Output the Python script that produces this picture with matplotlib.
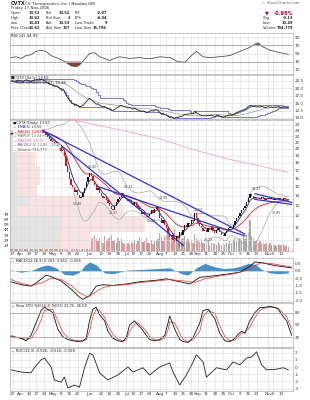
import numpy as np
import pandas as pd
import matplotlib
matplotlib.use("Agg")
import matplotlib.pyplot as plt

W, H = 310, 400

# ---- data ----
holidays = ["2006-04-14", "2006-05-29", "2006-07-04", "2006-09-04"]
dates = pd.bdate_range("2006-03-24", "2006-11-17")
dates = dates[~dates.isin(pd.to_datetime(holidays))]

close = [22.4,
         22.6, 22.3, 22.5, 22.8, 22.6,
         22.4, 22.1, 22.5, 22.9, 22.7,
         22.5, 22.2, 22.6, 22.8,
         22.9, 23.0, 22.8, 23.1, 22.9,
         22.6, 22.2, 21.9, 21.6, 21.3,
         21.0, 20.7, 20.9, 20.4, 20.1,
         19.6, 19.8, 18.9, 17.6, 16.8,
         15.9, 15.2, 14.9, 14.4, 14.6,
         14.1, 13.8, 13.9, 14.3, 14.8,
         15.5, 16.1, 16.6, 16.2,
         15.7, 15.2, 14.6, 14.8, 14.3,
         14.0, 13.7, 13.9, 13.5, 13.2,
         12.9, 12.6, 12.5, 12.9, 13.3,
         13.6, 13.9, 14.3, 14.0, 13.8,
         13.6, 13.4, 13.5, 13.2,
         13.0, 13.3, 12.9, 12.7, 12.5,
         12.2, 12.4, 12.1, 11.9, 12.0,
         12.2, 12.5, 12.3, 12.6, 12.8,
         12.5, 11.8, 11.4, 11.6, 11.2,
         10.9, 10.5, 10.2, 10.4, 10.0,
         9.9, 10.3, 10.1, 10.6, 10.4,
         10.8, 11.2, 11.0, 11.4, 11.3,
         11.6, 11.5, 12.3, 11.8, 11.4,
         11.1, 10.9, 10.7, 10.8,
         10.6, 10.9, 10.8, 11.0, 10.7,
         10.5, 10.8, 10.9, 10.6, 10.4,
         10.3, 10.5, 10.7, 10.9, 11.0,
         10.9, 11.2, 11.5, 11.8, 12.0,
         12.3, 12.5, 12.7, 12.9, 13.3,
         13.8, 14.2, 14.0, 13.8, 13.9,
         13.7, 13.8, 13.6, 13.9, 13.7,
         13.5, 13.6, 13.8, 13.6, 13.7,
         13.5, 13.7, 13.6, 13.8, 13.6,
         13.5, 13.7, 13.6, 13.62, 13.50]

volume = [1.2,
          1.5, 1.1, 1.8, 1.3, 1.0,
          1.4, 2.0, 1.2, 1.6, 1.1,
          1.3, 1.0, 1.5, 1.2,
          1.8, 2.4, 1.5, 2.2, 1.4,
          1.6, 2.0, 2.5, 1.8, 2.2,
          2.8, 2.0, 1.6, 2.5, 3.0,
          2.6, 1.9, 3.5, 4.5, 3.2,
          4.0, 3.0, 2.4, 3.3, 2.5,
          3.5, 2.8, 2.0, 2.6, 3.8,
          4.2, 2.9, 3.6, 2.2,
          2.5, 3.0, 2.2, 1.8, 2.4,
          2.0, 1.6, 2.8, 1.9, 2.2,
          2.6, 3.1, 1.8, 2.0, 1.5,
          2.4, 1.8, 2.2, 1.6, 1.4,
          1.0, 1.6, 1.3, 1.7,
          1.5, 2.0, 1.4, 1.8, 2.6,
          2.2, 1.7, 1.9, 2.4, 1.6,
          1.5, 2.0, 1.3, 1.8, 2.1,
          2.3, 3.4, 2.6, 1.9, 2.8,
          3.0, 4.6, 3.8, 2.7, 3.5,
          4.2, 3.1, 2.6, 3.4, 2.2,
          2.5, 2.9, 1.8, 2.3, 1.7,
          2.0, 1.6, 3.2, 2.4, 1.9,
          1.7, 2.2, 1.5, 1.4,
          1.3, 1.8, 1.2, 1.5, 1.6,
          1.4, 1.1, 1.7, 1.3, 1.2,
          1.5, 1.2, 1.6, 1.4, 1.8,
          1.6, 2.0, 2.4, 1.8, 2.2,
          2.5, 2.0, 2.8, 2.3, 3.0,
          3.6, 5.8, 2.9, 2.4, 1.9,
          2.0, 1.6, 1.8, 1.4, 1.5,
          1.3, 1.6, 1.2, 1.5, 1.1,
          1.4, 1.2, 1.0, 1.3, 1.2,
          1.1, 1.4, 1.0, 1.2, 0.8]

# 200 day MA (pink), read at a few days
ma200_idx = [30, 45, 70, 90, 113, 130, 150, 166]
ma200_val = [25.3, 24.4, 22.8, 21.5, 19.6, 18.5, 17.5, 16.7]

# volume by price zones
vbp_lo = [9.3, 10.6, 12.0, 13.0, 14.0, 15.2, 17.5, 20.0]
vbp_hi = [10.6, 12.0, 13.0, 14.0, 15.2, 17.5, 20.0, 23.0]
vbp_up = [30, 31, 5, 12, 4, 5, 4, 4]
vbp_down = [18, 50, 63, 55, 12, 13, 11, 8]

# drawn trend lines (day, price) pairs
trend_lines = [((19, 23.0), (140, 10.45)),
               ((19, 23.0), (103, 9.6)),
               ((52, 15.0), (140, 10.3)),
               ((146, 14.2), (168, 13.3)),
               ((146, 13.6), (168, 13.1))]

# high / low price notes on the main panel
note_idx = [40, 49, 61, 70, 84, 91, 102, 112, 118, 147, 159]
note_price = [13.1, 17.4, 12.3, 14.9, 11.55, 13.7, 9.55, 12.5, 10.0, 14.7, 12.3]
note_text = ["13.46", "16.80", "12.47", "14.23", "11.47", "13.05", "9.78", "12.52", "10.23",
             "14.47", "12.85"]

rsi_idx = [0, 3, 6, 9, 12, 15, 18, 21, 24, 27, 30, 33, 36, 39, 41, 44, 47, 50, 53, 56, 59, 62,
           65, 68, 71, 77, 83, 89, 95, 100, 104, 108, 111, 115, 119, 125, 131, 137, 143, 146,
           148, 150, 155, 161, 166]
rsi_val = [40, 42, 38, 45, 47, 55, 58, 55, 45, 40, 35, 28, 20, 18, 22, 35, 50, 52, 42, 38, 33, 38,
           42, 40, 38, 40, 37, 42, 40, 30, 28, 45, 55, 42, 40, 42, 45, 55, 65, 73,
           76, 68, 58, 52, 48]

macd_idx = [0, 6, 12, 16, 21, 24, 30, 36, 41, 43, 47, 51, 55, 61, 69, 77, 87, 93, 101, 107, 113,
            121, 131, 137, 143, 146, 150, 158, 168]
macd_val = [-0.75, -0.95, -1.05, -0.75, -0.3, -0.4, -0.7, -1.25, -1.8, -1.95, -1.7, -1.05, -0.95,
            -1.0, -0.9, -0.75, -0.65, -0.55, -0.75, -0.9, -0.45, -0.35, -0.2, -0.1, 0.3, 0.6, 0.55,
            0.35, 0.2]
signal_idx = [0, 6, 12, 18, 24, 30, 36, 41, 46, 50, 55, 61, 69, 77, 87, 95, 104, 110, 116, 125,
              134, 140, 146, 150, 158, 168]
signal_val = [-0.6, -0.85, -1.0, -0.85, -0.5, -0.6, -1.0, -1.5, -1.8, -1.5, -1.15, -1.0, -0.95,
              -0.8, -0.7, -0.6, -0.7, -0.8, -0.55, -0.35, -0.2, 0.0, 0.35, 0.55, 0.45, 0.25]
hist_idx = [0, 6, 12, 18, 22, 27, 32, 37, 41, 44, 47, 51, 56, 61, 70, 80, 88, 95, 102, 106, 111,
            116, 121, 127, 133, 137, 142, 146, 150, 155, 160, 166]
hist_val = [0.05, -0.1, 0.0, 0.3, 0.4, 0.2, -0.25, -0.3, -0.1, 0.35, 0.6, 0.4, -0.15, -0.2, 0.05,
            0.1, 0.15, 0.2, -0.2, -0.3, 0.2, 0.5, 0.3, 0.15, 0.2, 0.3, 0.5, 0.45, 0.1, -0.15,
            -0.2, -0.15]

sto_idx = [0, 3, 6, 9, 12, 15, 18, 20, 25, 28, 31, 34, 37, 40, 43, 45, 47, 49, 51, 53, 56, 58, 61,
           64, 67, 69, 71, 74, 76, 78, 81, 83, 86, 89, 92, 94, 95, 98, 101, 103, 106, 109, 113, 115,
           118, 122, 125, 128, 131, 134, 136, 138, 140, 143, 146, 149, 151, 155, 158, 160, 162, 165, 168]
sto_k = [22, 20, 18, 12, 25, 55, 85, 93, 80, 40, 22, 15, 12, 10, 12, 18, 60, 88, 93, 75, 60, 35,
         18, 12, 10, 20, 50, 60, 50, 42, 25, 15, 12, 15, 25, 55, 72, 40, 15, 10, 8, 20, 55, 85,
         88, 65, 30, 12, 10, 18, 28, 35, 30, 60, 80, 92, 92, 95, 92, 88, 75, 60, 25]
sto_d = [25, 21, 19, 16, 18, 35, 62, 85, 88, 60, 32, 20, 14, 12, 11, 14, 35, 70, 88, 85, 68, 48,
         28, 16, 12, 14, 35, 52, 55, 48, 35, 22, 14, 13, 18, 38, 58, 55, 30, 15, 10, 14, 35, 70,
         85, 78, 48, 22, 12, 13, 22, 30, 32, 45, 68, 85, 90, 93, 93, 90, 82, 70, 40]

roc_idx = [0, 6, 12, 14, 18, 20, 24, 26, 30, 32, 34, 38, 41, 44, 47, 49, 53, 58, 64, 70, 73, 79,
           83, 89, 95, 97, 101, 105, 109, 111, 115, 117, 123, 129, 133, 137, 141, 144, 147, 150,
           153, 159, 163, 166]
roc_val = [-0.4, -0.7, -0.8, -0.1, 1.0, 1.25, 0.0, -1.8, -2.1, -1.4, -2.9, -2.5, -2.8, -0.1, 1.9,
           1.7, -0.8, -1.8, -1.1, 0.0, -0.7, -0.1, -1.1, 0.0, 0.55, -0.7, -2.5, -1.1, 0.7, 1.7,
           0.7, -1.4, -0.1, -0.4, 0.7, 0.3, 1.25, 1.4, 2.1, 0.3, -0.4, -0.3, -0.1, -0.4]

tick_dates = ["2006-03-27", "2006-04-03", "2006-04-10", "2006-04-17", "2006-04-24", "2006-05-01",
              "2006-05-08", "2006-05-15", "2006-05-22", "2006-06-01", "2006-06-12", "2006-06-19",
              "2006-06-26", "2006-07-03", "2006-07-10", "2006-07-17", "2006-07-24", "2006-08-01",
              "2006-08-07", "2006-08-14", "2006-08-21", "2006-08-28", "2006-09-01", "2006-09-11",
              "2006-09-18", "2006-09-25", "2006-10-02", "2006-10-09", "2006-10-16", "2006-10-23",
              "2006-11-01", "2006-11-06", "2006-11-13"]
tick_labels = ["27", "Apr", "10", "17", "24", "May", "8", "15", "22", "Jun", "12", "19", "26",
               "Jul", "10", "17", "24", "Aug", "7", "14", "21", "28", "Sep", "11", "18", "25",
               "Oct", "9", "16", "23", "Nov", "6", "13"]

# ---- derived ----
c = pd.Series(close)
idx = np.arange(len(close))
ema_fast = c.ewm(span=5, adjust=False).mean()
ma20 = c.rolling(20, min_periods=1).mean()
sd20 = c.rolling(20, min_periods=2).std().fillna(0)
bb_up = ma20 + 2 * sd20
bb_dn = ma20 - 2 * sd20
ma50 = c.ewm(span=20, adjust=False).mean()
tick_pos = [int(np.searchsorted(dates, pd.Timestamp(d))) for d in tick_dates]

XLIM = (-0.6, 168.8)
GRID = "#dcdcdc"
FS = 3.0


def px_axes(x0, y0, x1, y1):
    return fig.add_axes([x0 / W, 1 - y1 / H, (x1 - x0) / W, (y1 - y0) / H])


def style(ax, yticks, ylabels, xlabels=False):
    ax.set_xlim(*XLIM)
    ax.set_xticks(tick_pos)
    ax.set_xticklabels(tick_labels if xlabels else [])
    ax.set_yticks(yticks)
    ax.set_yticklabels(ylabels)
    ax.yaxis.tick_right()
    ax.minorticks_off()
    ax.tick_params(axis="both", length=0, labelsize=FS, pad=1.5, colors="#333333")
    ax.grid(True, color=GRID, lw=0.4)
    ax.set_axisbelow(True)
    for s in ax.spines.values():
        s.set_color("#999999")
        s.set_linewidth(0.4)


fig = plt.figure(figsize=(W / 100, H / 100), dpi=100)
fig.patch.set_facecolor("white")

# ---- header ----
def htxt(x, y, s, **kw):
    kw.setdefault("fontsize", 2.6)
    kw.setdefault("color", "#222222")
    fig.text(x / W, 1 - y / H, s, va="center", **kw)

htxt(11, 3.5, "CVTX", fontweight="bold", fontsize=3.6)
htxt(25, 3.5, "CV Therapeutics, Inc.) Nasdaq GM", fontsize=3.0)
htxt(262, 3.5, "© StockCharts.com", fontsize=2.7, color="#666666")
htxt(11, 8.5, "Friday 17-Nov-2006", fontsize=2.8)
rows = [("Open", "13.52", "Bid", "13.52", "P/E", "-2.87"),
        ("High", "13.62", "Bid Size", "2", "EPS", "-4.04"),
        ("Low", "13.43", "Ask", "13.53", "Last Trade", "9"),
        ("Prev Close", "13.62", "Ask Size", "137", "Last Size", "15,796")]
for i, r in enumerate(rows):
    y = 13.3 + 4.9 * i
    htxt(11, y, r[0]); htxt(40, y, r[1], ha="right", fontweight="bold")
    htxt(46, y, r[2]); htxt(70, y, r[3], ha="right", fontweight="bold")
    htxt(75, y, r[4]); htxt(107, y, r[5], ha="right", fontweight="bold")
htxt(265, 13.3, "▼", color="#aa0044", fontsize=3.6)
htxt(293, 13.3, "-0.95%", ha="right", color="#aa0044", fontweight="bold", fontsize=3.6)
htxt(263, 18.2, "Chg"); htxt(293, 18.2, "-0.13", ha="right", fontweight="bold")
htxt(263, 23.1, "Last"); htxt(293, 23.1, "13.49", ha="right", fontweight="bold")
htxt(263, 28, "Volume"); htxt(293, 28, "794,779", ha="right", fontweight="bold")

# ---- RSI ----
ax = px_axes(10, 33, 293, 74)
rv = np.interp(idx, rsi_idx, rsi_val)
ax.plot(idx, rv, color="#333333", lw=0.5)
ax.fill_between(idx, rv, 70, where=rv > 70, color="#557755", lw=0, interpolate=True)
ax.fill_between(idx, rv, 30, where=rv < 30, color="#884444", lw=0, interpolate=True)
ax.axhline(70, color="#aaaaaa", lw=0.6)
ax.axhline(30, color="#aaaaaa", lw=0.6)
ax.set_ylim(0, 100)
style(ax, [10, 30, 50, 70, 90], ["10", "30", "50", "70", "90"])
ax.text(0.005, 0.97, "RSI(14) 44.99", transform=ax.transAxes, fontsize=2.8, va="top", color="#222222")

# ---- price channel panel ----
ax = px_axes(10, 75, 293, 120)
chan_hi = c.rolling(20, min_periods=1).max()
chan_lo = c.rolling(20, min_periods=1).min()
ax.step(idx, chan_hi, where="post", color="#6666bb", lw=0.6)
ax.step(idx, chan_lo, where="post", color="#6666bb", lw=0.6)
ax.plot(idx, c.rolling(20, min_periods=1).mean(), color="#999999", lw=0.5)
ax.plot(idx, c, color="#222222", lw=0.6)
ax.set_ylim(9.3, 24.5)
style(ax, [10, 12.5, 15, 17.5, 20, 22.5], ["10.0", "12.5", "15.0", "17.5", "20.0", "22.5"])
ax.text(0.005, 0.97, "■CVTX (Daily) 13.50\n— Price Chnl(20) 14.47 - 12.85", transform=ax.transAxes,
        fontsize=2.6, va="top", color="#222222", linespacing=1.1)

# ---- main price panel ----
ax = px_axes(10, 119, 293, 251)
axv = ax.twinx()
for lo, hi, up, dn in zip(vbp_lo, vbp_hi, vbp_up, vbp_down):
    ax.barh(lo, up, height=hi - lo, left=XLIM[0], align="edge", color="#e4e4e4", lw=0, zorder=0)
    ax.barh(lo, dn, height=hi - lo, left=XLIM[0] + up, align="edge", color="#fae3e3", lw=0, zorder=0)
prev = [close[0]] + close[:-1]
cols = ["#dd1111" if a < b else "#111111" for a, b in zip(close, prev)]
vcols = ["#e49a9a" if a < b else "#a8a8a8" for a, b in zip(close, prev)]
axv.bar(idx, volume, width=0.75, color=vcols, lw=0)
axv.set_ylim(0, 25)
axv.set_yticks([1, 2, 3, 4, 5, 6, 7])
axv.set_yticklabels(["1M", "2M", "3M", "4M", "5M", "6M", "7M"])
axv.yaxis.tick_left()
axv.tick_params(length=0, labelsize=2.6, pad=0.5, colors="#333333")
for s in axv.spines.values():
    s.set_visible(False)
ax.set_zorder(axv.get_zorder() + 1)
ax.patch.set_visible(False)
ax.set_yscale("log")
bottoms = [min(a, b) for a, b in zip(close, prev)]
heights = [max(abs(a - b), 0.06) for a, b in zip(close, prev)]
ax.bar(idx, heights, bottom=bottoms, width=0.8, color=cols, lw=0, zorder=4)
ax.plot(idx, bb_up, color="#aaaaaa", lw=0.5, zorder=3)
ax.plot(idx, bb_dn, color="#aaaaaa", lw=0.5, zorder=3)
ax.plot(idx, ma50, color="#cc2222", lw=0.6, zorder=3)
ax.plot(idx, ema_fast, color="#222266", lw=0.6, zorder=3)
ax.plot(ma200_idx, ma200_val, color="#e6a6d6", lw=0.6, zorder=3)
for (x0, y0), (x1, y1) in trend_lines:
    ax.plot([x0, x1], [y0, y1], color="#3333cc", lw=0.9, zorder=5)
for i_, p_, t_ in zip(note_idx, note_price, note_text):
    ax.text(i_, p_, t_, fontsize=2.3, color="#444444", ha="center", va="center", zorder=6)
ax.set_ylim(9.18, 25.1)
style(ax, list(range(10, 25)), [str(v) for v in range(10, 25)], xlabels=True)
ax.tick_params(axis="x", pad=1)
leg = [("■CVTX (Daily) 13.50", "#111111"), ("— EMA(5) 13.55", "#222266"),
       ("— MA(20) 13.62", "#cc2222"), ("— MA(50) 13.04", "#448844"),
       ("— MA(200) 15.91", "#cc66aa"), ("— BB(20,2.0) 12.85 - 14.05", "#555588"),
       ("— Volume 794,779", "#444444")]
for i, (s, col) in enumerate(leg):
    ax.text(0.01, 0.985 - i * 0.034, s, transform=ax.transAxes, fontsize=2.5, va="top", color=col,
            zorder=6, bbox=dict(fc="white", ec="none", pad=0.2, alpha=0.85))

# ---- MACD ----
ax = px_axes(10, 258, 293, 302)
hv = np.interp(idx, hist_idx, hist_val)
ax.fill_between(idx, 0, hv, color="#4a8fc4", lw=0)
ax.plot(macd_idx, macd_val, color="#111111", lw=0.6)
ax.plot(signal_idx, signal_val, color="#dd3333", lw=0.5)
ax.set_ylim(-2.13, 0.87)
style(ax, [-2, -1.5, -1, -0.5, 0, 0.5], ["-2.0", "-1.5", "-1.0", "-0.5", "0.0", "0.5"])
ax.text(0.005, 0.98, "— MACD(12,26,9) 0.207, 0.262, -0.055", transform=ax.transAxes, fontsize=2.6,
        va="top", color="#222222")

# ---- slow stochastic ----
ax = px_axes(10, 303, 293, 347)
ax.plot(sto_idx, sto_d, color="#dd3333", lw=0.5)
ax.plot(sto_idx, sto_k, color="#111111", lw=0.6)
ax.axhline(80, color="#aaaaaa", lw=0.6)
ax.axhline(20, color="#aaaaaa", lw=0.6)
ax.set_ylim(-3, 103)
style(ax, [20, 50, 80], ["20", "50", "80"])
ax.text(0.005, 0.98, "— Slow STO %K(14,3) %D(3) 22.75, 26.58", transform=ax.transAxes,
        fontsize=2.6, va="top", color="#222222")

# ---- ROC ----
ax = px_axes(10, 348, 293, 391)
ax.plot(roc_idx, roc_val, color="#222222", lw=0.6)
ax.set_ylim(-3.33, 2.64)
style(ax, [-3, -2, -1, 0, 1, 2], ["-3", "-2", "-1", "0", "1", "2"], xlabels=True)
ax.tick_params(axis="x", pad=1)
ax.text(0.005, 0.98, "— ROC(12,3) -0.526, -0.526, -0.158", transform=ax.transAxes, fontsize=2.6,
        va="top", color="#222222")

fig.savefig("out.png", dpi=100, facecolor="white")
